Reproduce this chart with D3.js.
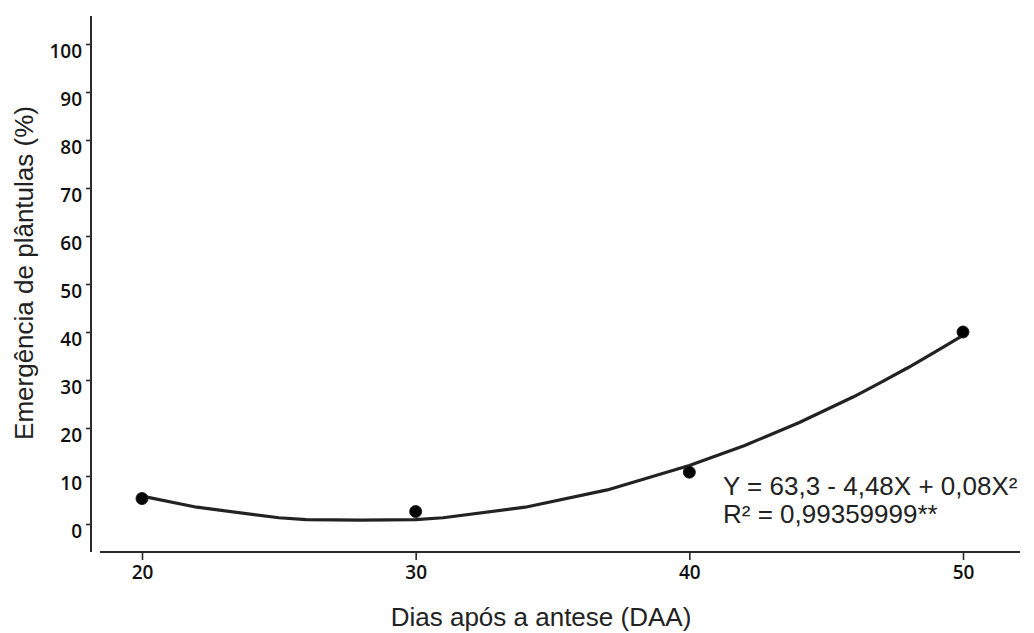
<!DOCTYPE html>
<html>
<head>
<meta charset="utf-8">
<script src="https://cdn.jsdelivr.net/npm/d3@7/dist/d3.min.js"></script>
<style>
  html, body { margin: 0; padding: 0; background: #fff; }
  svg { display: block; }
  .tick text { font-family: "Open Sans", sans-serif; font-weight: 600; font-size: 19px; fill: #111; }
  .title { font-family: "Liberation Sans", Arial, sans-serif; font-size: 26px; fill: #222; }
  .eq { font-family: "Liberation Sans", Arial, sans-serif; font-size: 26px; fill: #222; }
</style>
</head>
<body>
<svg id="chart" width="1034" height="633"></svg>
<script>
// Observed emergence (%) by days after anthesis
const days = [20, 30, 40, 50];
const emergence = [5.3, 2.6, 10.8, 40.0];

// Fitted quadratic curve, sampled along X
const curveDays = [20, 22, 25, 26, 28, 30, 31, 34, 37, 40, 42, 44, 46, 47, 48, 49, 50];
const curveValues = [5.8, 3.5, 1.3, 0.9, 0.8, 0.9, 1.3, 3.5, 7.1, 12.2, 16.3, 21.1, 26.5, 29.5, 32.6, 35.9, 39.3];

const xTicks = [20, 30, 40, 50];
const yTicks = [0, 10, 20, 30, 40, 50, 60, 70, 80, 90, 100];

const equationLines = ["Y = 63,3 - 4,48X + 0,08X²", "R² = 0,99359999**"];

const svg = d3.select("#chart");

const x = d3.scaleLinear().domain([20, 50]).range([142, 963]);
const y = d3.scaleLinear().domain([0, 100]).range([524, 44]);

const axisColor = "#2a2a2a";

// Y axis (detached from the x axis)
const yAxis = d3.axisLeft(y).tickValues(yTicks).tickSize(5).tickPadding(4).tickFormat(d3.format("d"));
const gy = svg.append("g").attr("transform", "translate(91,0)").call(yAxis);
gy.select(".domain").remove();
gy.selectAll(".tick line").attr("stroke", axisColor).attr("stroke-width", 1.6);
gy.selectAll(".tick text").attr("dy", "0.72em");
svg.append("line")
  .attr("x1", 91).attr("x2", 91)
  .attr("y1", 16).attr("y2", 552)
  .attr("stroke", axisColor).attr("stroke-width", 2);

// X axis
const xAxis = d3.axisBottom(x).tickValues(xTicks).tickSize(8).tickPadding(6).tickFormat(d3.format("d"));
const gx = svg.append("g").attr("transform", "translate(0,552)").call(xAxis);
gx.select(".domain").remove();
gx.selectAll(".tick line").attr("stroke", axisColor).attr("stroke-width", 1.6);
svg.append("line")
  .attr("x1", 100).attr("x2", 1020)
  .attr("y1", 552).attr("y2", 552)
  .attr("stroke", axisColor).attr("stroke-width", 2);

// Regression curve
const line = d3.line()
  .x((d, i) => x(curveDays[i]))
  .y(d => y(d))
  .curve(d3.curveLinear);
svg.append("path")
  .datum(curveValues)
  .attr("d", line)
  .attr("fill", "none")
  .attr("stroke", "#222")
  .attr("stroke-width", 3.2)
  .attr("stroke-linejoin", "round");

// Observed points
svg.append("g").selectAll("circle")
  .data(emergence)
  .join("circle")
  .attr("cx", (d, i) => x(days[i]))
  .attr("cy", d => y(d))
  .attr("r", 6)
  .attr("fill", "#000")
  .attr("stroke", "#222")
  .attr("stroke-width", 1);

// Equation
svg.append("g").selectAll("text")
  .data(equationLines)
  .join("text")
  .attr("class", "eq")
  .attr("x", 723)
  .attr("y", (d, i) => 495 + i * 28)
  .text(d => d);

// Axis titles
svg.append("text")
  .attr("class", "title")
  .attr("x", 541).attr("y", 626)
  .attr("text-anchor", "middle")
  .text("Dias após a antese (DAA)");

svg.append("text")
  .attr("class", "title")
  .attr("transform", "translate(33,273) rotate(-90)")
  .attr("text-anchor", "middle")
  .text("Emergência de plântulas (%)");
</script>
</body>
</html>
